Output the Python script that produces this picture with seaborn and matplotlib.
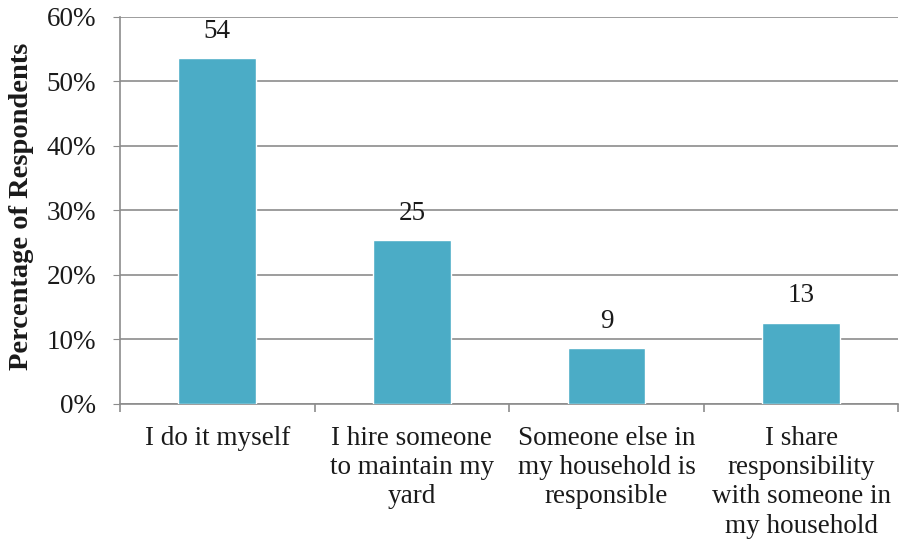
import matplotlib
matplotlib.use("Agg")
import matplotlib.pyplot as plt
import numpy as np
import pandas as pd
import seaborn as sns
from matplotlib.ticker import FixedLocator, PercentFormatter

categories = [
    "I do it myself",
    "I hire someone\nto maintain my\nyard",
    "Someone else in\nmy household is\nresponsible",
    "I share\nresponsibility\nwith someone in\nmy household",
]
percent = [53.6, 25.4, 8.7, 12.6]
labels = ["54", "25", "9", "13"]

df = pd.DataFrame({"category": categories, "percent": percent})

sns.set_style("white")
plt.rcParams["font.family"] = ["Liberation Serif", "DejaVu Serif"]
fs = 19.5

fig = plt.figure(figsize=(9, 5.48), dpi=100)
ax = fig.add_axes([0.1333, 0.263, 0.865, 0.706])

sns.barplot(data=df, x="category", y="percent", color="#4BACC6",
            saturation=1, width=0.4, ax=ax, zorder=3)

for i, (v, t) in enumerate(zip(percent, labels)):
    ax.text(i, v + 2.2, t, ha="center", va="bottom", fontsize=fs,
            color="#1a1a1a")

ax.set_ylim(0, 60)
ax.set_xlim(-0.5, 3.5)
ax.set_yticks(np.arange(0, 61, 10))
ax.yaxis.set_major_formatter(PercentFormatter(decimals=0))
ax.yaxis.grid(True, color="#8c8c8c", linewidth=1.2, zorder=0)
ax.set_axisbelow(True)

ax.set_xlabel("")
ax.set_ylabel("Percentage of Respondents", fontsize=20.5, fontweight="bold",
              color="#1a1a1a")
ax.yaxis.set_label_coords(-0.110, 0.51)

for s in ["top", "right"]:
    ax.spines[s].set_visible(False)
for s in ["left", "bottom"]:
    ax.spines[s].set_color("#8c8c8c")
    ax.spines[s].set_linewidth(1.2)

ax.tick_params(axis="y", which="major", length=5, color="#8c8c8c",
               labelsize=fs, left=True, pad=12, labelcolor="#1a1a1a")
ax.tick_params(axis="x", which="major", length=0, labelsize=fs, pad=16,
               labelcolor="#1a1a1a")
ax.xaxis.set_minor_locator(FixedLocator([-0.5, 0.5, 1.5, 2.5, 3.5]))
ax.tick_params(axis="x", which="minor", length=6, color="#8c8c8c",
               bottom=True, width=1.2)
for lab in ax.get_xticklabels():
    lab.set_linespacing(1.22)
    lab.set_va("top")

fig.savefig("out.png", dpi=100)
